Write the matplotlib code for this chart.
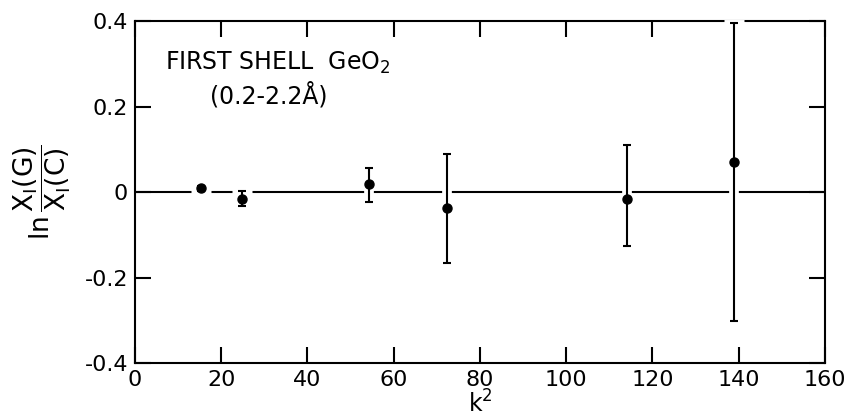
import matplotlib
matplotlib.use("Agg")
import matplotlib.pyplot as plt

k2 = [15.2, 24.8, 54.3, 72.3, 114.2, 138.9]
ln_ratio = [0.009, -0.016, 0.018, -0.038, -0.016, 0.070]
err_up = [0.006, 0.018, 0.039, 0.126, 0.125, 0.326]
err_dn = [0.006, 0.016, 0.041, 0.128, 0.111, 0.372]

xticks = [0, 20, 40, 60, 80, 100, 120, 140, 160]
xticklabels = ["0", "20", "40", "60", "80", "100", "120", "140", "160"]
yticks = [-0.4, -0.2, 0.0, 0.2, 0.4]
yticklabels = ["-0.4", "-0.2", "0", "0.2", "0.4"]

plt.rcParams['font.family'] = ['DejaVu Sans']
plt.rcParams['mathtext.fontset'] = 'dejavusans'

fig = plt.figure(figsize=(8.46, 4.16), dpi=100)
ax = fig.add_axes([0.1596, 0.1274, 0.975 - 0.1596, 0.9495 - 0.1274])

ax.axhline(0, color='black', lw=1.5, zorder=1)

# white halo under error bars to break the zero line and the frame
ax.errorbar(k2, ln_ratio, yerr=[err_dn, err_up], fmt='o', color='white',
            ms=10, capsize=7, capthick=5, elinewidth=7, zorder=2.6,
            clip_on=False)
ax.errorbar(k2, ln_ratio, yerr=[err_dn, err_up], fmt='o', color='black',
            ms=6.5, capsize=3.2, capthick=1.5, elinewidth=1.5, zorder=3,
            clip_on=False)

ax.set_xlim(0, 160)
ax.set_ylim(-0.4, 0.4)
ax.set_xticks(xticks)
ax.set_xticklabels(xticklabels)
ax.set_yticks(yticks)
ax.set_yticklabels(yticklabels)
ax.tick_params(direction='in', length=11.5, width=1.5, labelsize=16,
               top=True, right=True)
ax.tick_params(axis='x', pad=5)
ax.tick_params(axis='y', pad=5)
for s in ax.spines.values():
    s.set_linewidth(1.5)
# top tick at 140 is hidden behind the long error bar in the reference
ax.xaxis.get_major_ticks()[7].tick2line.set_visible(False)

ax.text(7.0, 0.302, r"FIRST SHELL  GeO$_2$", fontsize=17, va='center', ha='left')
ax.text(17.4, 0.226, "(0.2-2.2Å)", fontsize=17, va='center', ha='left')

ax.set_xlabel(r"k$^2$", fontsize=17, labelpad=0)
ax.set_ylabel(r"$\mathrm{ln}\,\dfrac{\mathsf{X_I(G)}}{\mathsf{X_I(C)}}$", fontsize=19, labelpad=8)

fig.savefig("out.png", dpi=100)
